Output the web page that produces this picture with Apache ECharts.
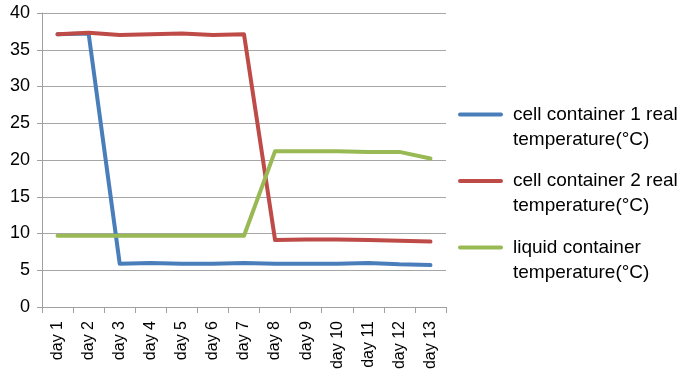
<!DOCTYPE html>
<html><head><meta charset="utf-8">
<script src="https://cdn.jsdelivr.net/npm/echarts@6/dist/echarts.min.js"></script>
<style>html,body{margin:0;padding:0;background:#fff}#c{width:689px;height:383px}</style>
</head><body><div id="c"></div>
<script>
const categories = ['day 1','day 2','day 3','day 4','day 5','day 6','day 7','day 8','day 9','day 10','day 11','day 12','day 13'];
const seriesNames = ['cell container 1 real\ntemperature(°C)','cell container 2 real\ntemperature(°C)','liquid container\ntemperature(°C)'];
const cell1 = [37.1, 37.2, 5.9, 6.0, 5.9, 5.9, 6.0, 5.9, 5.9, 5.9, 6.0, 5.8, 5.7];
const cell2 = [37.1, 37.3, 37.0, 37.1, 37.2, 37.0, 37.1, 9.1, 9.2, 9.2, 9.1, 9.0, 8.9];
const liquid = [9.7, 9.7, 9.7, 9.7, 9.7, 9.7, 9.7, 21.2, 21.2, 21.2, 21.1, 21.1, 20.2];
const yTicks = {min: 0, max: 40, interval: 5};

const colors = ['#4a7ebb','#be4b48','#98b954'];
const font = '"Liberation Sans", Arial, sans-serif';
const chart = echarts.init(document.getElementById('c'));
const mk = (name, data, c) => ({
  name, type: 'line', data, symbol: 'none', smooth: false,
  lineStyle: {width: 4, color: c, cap: 'round', join: 'round'}, itemStyle: {color: c}
});
chart.setOption({
  animation: false,
  textStyle: {fontFamily: font},
  grid: {left: 42, top: 13, width: 404, height: 294, containLabel: false},
  xAxis: {
    type: 'category', data: categories, boundaryGap: true,
    axisLine: {lineStyle: {color: '#a0a0a0', width: 1}},
    axisTick: {show: true, length: 6, alignWithLabel: false, lineStyle: {color: '#a0a0a0'}},
    axisLabel: {rotate: 90, fontSize: 16, color: '#000', margin: 14, fontFamily: font, interval: 0}
  },
  yAxis: {
    type: 'value', min: yTicks.min, max: yTicks.max, interval: yTicks.interval,
    axisLine: {show: true, lineStyle: {color: '#a0a0a0', width: 1}},
    axisTick: {show: true, length: 5, lineStyle: {color: '#a0a0a0'}},
    splitLine: {lineStyle: {color: '#a6a6a6', width: 1}},
    axisLabel: {fontSize: 18, color: '#000', margin: 12, fontFamily: font}
  },
  legend: {
    orient: 'vertical', left: 458, top: 102, padding: 0, itemWidth: 45, itemHeight: 29, itemGap: 16.5,
    icon: 'path://M2,0 H43 A2,2 0 0 1 43,4 H2 A2,2 0 0 1 2,0 Z M0,29 L0,29 M45,29 L45,29 M0,0 L0,0 M45,0 L45,0',
    selectedMode: false,
    textStyle: {fontSize: 19, lineHeight: 25, color: '#000', fontFamily: font, padding: [0, 0, 0, 5]},
    data: seriesNames.map((n, i) => ({name: n, itemStyle: {color: colors[i]}}))
  },
  series: [mk(seriesNames[0], cell1, colors[0]), mk(seriesNames[1], cell2, colors[1]), mk(seriesNames[2], liquid, colors[2])]
});
</script></body></html>
